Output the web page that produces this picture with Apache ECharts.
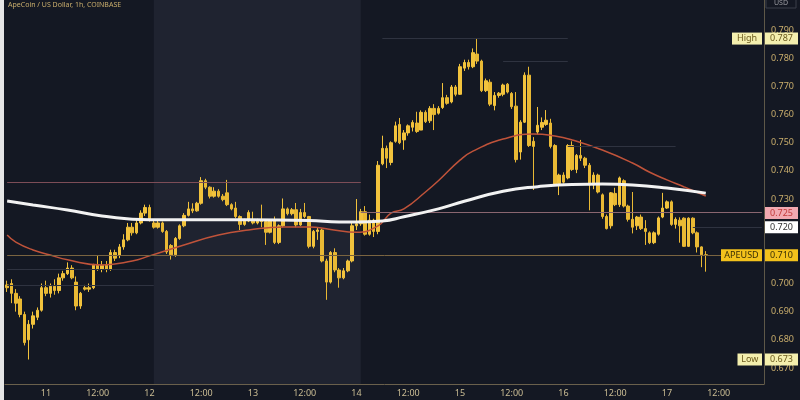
<!DOCTYPE html>
<html><head><meta charset="utf-8">
<script src="https://cdn.jsdelivr.net/npm/echarts@6/dist/echarts.min.js"></script>
<style>html,body{margin:0;padding:0;background:#141823}#c{width:800px;height:400px}</style>
</head><body><div id="c"></div><script>
// ---- data ----
const startDay = 10, startHour = 15, totalSlots = 176; // hourly slots (incl. empty future space)
const candles = [ // [open, close, low, high]
[0.6995,0.6985,0.697,0.701],[0.700,0.6965,0.693,0.7015],[0.6965,0.693,0.690,0.698],[0.6945,0.689,0.688,0.6955],
[0.689,0.679,0.678,0.690],[0.680,0.6855,0.673,0.687],[0.6855,0.6885,0.684,0.690],[0.688,0.6905,0.687,0.6915],
[0.6905,0.6985,0.690,0.700],[0.6985,0.6965,0.6955,0.701],[0.6965,0.699,0.695,0.700],[0.699,0.6975,0.696,0.7015],
[0.6975,0.702,0.6965,0.7035],[0.702,0.7035,0.701,0.7045],[0.7035,0.7055,0.703,0.7075],[0.7055,0.702,0.7015,0.7065],
[0.7005,0.692,0.6905,0.7025],[0.692,0.6965,0.691,0.697],[0.6985,0.698,0.6975,0.6995],[0.698,0.6985,0.697,0.700],
[0.6985,0.7065,0.698,0.707],[0.7065,0.705,0.7045,0.710],[0.705,0.7065,0.704,0.708],[0.7065,0.705,0.704,0.708],
[0.705,0.711,0.7045,0.712],[0.711,0.709,0.708,0.712],[0.710,0.713,0.709,0.714],[0.713,0.7155,0.712,0.7175],
[0.7155,0.720,0.715,0.7215],[0.720,0.718,0.717,0.7215],[0.718,0.7215,0.7175,0.7225],[0.7215,0.725,0.721,0.726],
[0.725,0.727,0.724,0.728],[0.727,0.7225,0.722,0.728],[0.7215,0.720,0.7195,0.7225],[0.720,0.7215,0.7195,0.7225],
[0.7215,0.7185,0.718,0.722],[0.7185,0.7112,0.7105,0.719],[0.7135,0.7102,0.7085,0.714],[0.7102,0.716,0.7095,0.7165],
[0.716,0.7205,0.7155,0.721],[0.7205,0.7242,0.720,0.725],[0.7242,0.7265,0.7238,0.729],[0.7265,0.7258,0.725,0.7285],
[0.7258,0.7285,0.7255,0.729],[0.7285,0.7365,0.728,0.7378],[0.7365,0.7342,0.7335,0.7372],[0.7342,0.731,0.7302,0.7345],
[0.731,0.7328,0.7305,0.7342],[0.7328,0.731,0.7305,0.7335],[0.731,0.7298,0.7292,0.7318],[0.7322,0.728,0.7275,0.7368],
[0.728,0.7265,0.726,0.7285],[0.7268,0.7238,0.7232,0.729],[0.7238,0.721,0.719,0.7242],[0.721,0.7225,0.7205,0.723],
[0.7222,0.7252,0.7218,0.726],[0.7226,0.7215,0.721,0.7255],[0.7215,0.7226,0.721,0.723],[0.7226,0.722,0.720,0.728],
[0.722,0.7182,0.7137,0.7225],[0.7182,0.7222,0.7178,0.7228],[0.7222,0.7146,0.714,0.7238],[0.7146,0.7205,0.714,0.721],
[0.7205,0.7265,0.720,0.7302],[0.7265,0.7248,0.7242,0.727],[0.7248,0.7262,0.7242,0.7268],[0.7262,0.7208,0.720,0.7286],
[0.7208,0.7252,0.7205,0.7265],[0.7252,0.7238,0.7232,0.7286],[0.7238,0.7132,0.7125,0.724],[0.7132,0.7185,0.7125,0.719],
[0.7185,0.719,0.7155,0.7198],[0.719,0.708,0.7075,0.7195],[0.708,0.7005,0.6942,0.7088],[0.7005,0.711,0.700,0.7115],
[0.711,0.7048,0.704,0.7125],[0.7048,0.702,0.6985,0.7055],[0.702,0.7045,0.7015,0.7055],[0.7045,0.708,0.704,0.7085],
[0.708,0.7205,0.7075,0.7215],[0.7205,0.7212,0.719,0.730],[0.7212,0.7255,0.7205,0.7265],[0.7255,0.7175,0.717,0.7275],
[0.7175,0.7225,0.717,0.7245],[0.7225,0.7185,0.7165,0.723],[0.7185,0.742,0.7175,0.7435],[0.7425,0.748,0.742,0.7525],
[0.748,0.7445,0.741,0.749],[0.743,0.750,0.742,0.7505],[0.7505,0.756,0.750,0.7575],[0.7565,0.750,0.7495,0.7588],
[0.751,0.7535,0.7475,0.7545],[0.7535,0.756,0.7525,0.7565],[0.7555,0.7572,0.754,0.758],[0.757,0.754,0.7535,0.761],
[0.7545,0.7608,0.7545,0.7615],[0.7608,0.7575,0.757,0.7615],[0.7578,0.7622,0.757,0.763],[0.7622,0.760,0.7545,0.7637],
[0.7605,0.7622,0.760,0.763],[0.7625,0.766,0.762,0.7712],[0.766,0.764,0.7635,0.767],[0.7645,0.7698,0.764,0.7705],
[0.7698,0.7672,0.7665,0.7705],[0.7672,0.777,0.767,0.778],[0.7765,0.7785,0.7755,0.7795],[0.7785,0.777,0.776,0.7795],
[0.777,0.782,0.7765,0.7835],[0.7815,0.779,0.778,0.787],[0.779,0.7685,0.768,0.7795],[0.7685,0.772,0.768,0.7728],
[0.7715,0.7637,0.763,0.7725],[0.7632,0.7668,0.7615,0.768],[0.7668,0.7676,0.766,0.768],[0.7672,0.7705,0.7665,0.771],
[0.7708,0.768,0.7675,0.7712],[0.7675,0.7628,0.762,0.768],[0.763,0.744,0.743,0.768],[0.7467,0.7573,0.744,0.758],
[0.7573,0.774,0.757,0.775],[0.774,0.749,0.7485,0.777],[0.7505,0.7487,0.7332,0.752],[0.7538,0.7562,0.753,0.7627],
[0.7555,0.7572,0.7545,0.759],[0.7565,0.758,0.756,0.7616],[0.757,0.7487,0.748,0.7585],[0.749,0.7352,0.735,0.7495],
[0.7355,0.7385,0.7314,0.739],[0.7385,0.736,0.7355,0.7395],[0.7375,0.749,0.737,0.7495],[0.749,0.7405,0.740,0.7505],
[0.7405,0.7455,0.7392,0.746],[0.7455,0.7445,0.7435,0.751],[0.7445,0.742,0.741,0.745],[0.742,0.735,0.726,0.7428],
[0.735,0.7385,0.7335,0.7395],[0.7385,0.7325,0.732,0.739],[0.7315,0.7238,0.723,0.732],[0.7238,0.7195,0.7192,0.7245],
[0.7205,0.7322,0.7195,0.7325],[0.732,0.728,0.7275,0.734],[0.728,0.7375,0.7272,0.738],[0.7365,0.7275,0.727,0.737],
[0.7275,0.7228,0.722,0.728],[0.7228,0.720,0.7178,0.7325],[0.7205,0.7236,0.719,0.724],[0.7236,0.7195,0.719,0.7245],
[0.7195,0.7185,0.7137,0.7225],[0.718,0.7145,0.714,0.7185],[0.7145,0.718,0.714,0.7185],[0.7175,0.7233,0.717,0.7238],
[0.7236,0.7268,0.7232,0.7322],[0.7268,0.729,0.7265,0.7295],[0.729,0.721,0.7205,0.7295],[0.721,0.7228,0.7195,0.7235],
[0.7225,0.7205,0.7145,0.7235],[0.7232,0.7132,0.713,0.7235],[0.7132,0.7232,0.713,0.7235],[0.7232,0.718,0.7175,0.7235],
[0.718,0.713,0.711,0.7185],[0.713,0.7102,0.7058,0.7132],[0.7102,0.710,0.7042,0.7115]
];
// moving averages: [slot index, value]
const maRed = [[0,0.7172],[2,0.7147],[6,0.7119],[10,0.7101],[14,0.7084],[22,0.7066],[29,0.708],[33,0.7098],
[41,0.7137],[49,0.7172],[56,0.719],[64,0.7201],[70,0.7201],[75,0.7192],[81,0.7182],[86,0.7205],[89,0.725],
[92,0.7265],[97,0.7325],[100,0.7365],[105,0.7438],[108,0.7470],[115,0.7513],[122,0.7531],[127,0.7524],
[131,0.751],[138,0.7474],[145,0.7428],[149,0.7395],[153,0.7368],[157,0.7343],[162,0.7311]];
const maWhite = [[0,0.7293],[6,0.7279],[14,0.7261],[22,0.7240],[33,0.7226],[56,0.7226],[70,0.7224],[77,0.7218],
[81,0.7218],[87,0.7222],[92,0.7237],[100,0.7265],[106,0.7292],[115,0.7328],[123,0.7344],[131,0.7352],
[138,0.7353],[145,0.735],[153,0.7339],[162,0.7321]];
const yTicks = [0.67,0.68,0.69,0.70,0.71,0.72,0.73,0.74,0.75,0.76,0.77,0.78,0.79];
// horizontal level segments: value, first slot, last slot
const levelValues = [0.736, 0.7254, 0.710];
const levelFrom = [0, 82, 0];
const levelTo = [82, 175, 175];
// faint session high/low segments
const faintValues = [0.7870, 0.7790, 0.7488, 0.7200, 0.7052, 0.6995];
const faintFrom = [87, 115, 130, 159, 0, 0];
const faintTo = [130, 130, 155, 175, 34, 34];
const weekendFrom = 34, weekendTo = 82;
const tagNames = ['High', '', '', 'APEUSD', 'Low'];
const tagValues = [0.787, 0.725, 0.720, 0.710, 0.673];
const titleText = 'ApeCoin / US Dollar, 1h, COINBASE';

// ---- categories ----
const categories = [];
for (let k = 0; k < totalSlots; k++) {
  const t = startHour + k;
  categories.push((startDay + Math.floor(t / 24)) + ' ' + String(t % 24).padStart(2, '0') + ':00');
}
const hourOf = v => parseInt(v.split(' ')[1], 10);

const levelStyles = [
  {color:'#7d4d57', width:1},
  {color:'#8a6670', width:1},
  {color:'#7a6440', width:1}
];
const gold = '#f2c33d';
const segs = levelValues.map((v, i) => [
  {coord: [levelFrom[i], v], lineStyle: {color: levelStyles[i].color, width: levelStyles[i].width, type: 'solid'}},
  {coord: [levelTo[i], v]}
]).concat(faintValues.map((v, i) => [
  {coord: [faintFrom[i], v], lineStyle: {color: '#2f3340', width: 1, type: 'solid'}},
  {coord: [faintTo[i], v]}
]));
const chart = echarts.init(document.getElementById('c'));
const option = {
  backgroundColor: '#141823',
  animation: false,
  grid: {left: 5, right: 36, top: 0, bottom: 16},
  xAxis: {
    type: 'category', data: categories, boundaryGap: true,
    axisLine: {lineStyle: {color: '#6a604c'}}, axisTick: {show: false},
    axisLabel: {
      color: '#cbbd94', fontSize: 9, margin: 5, fontFamily: 'Noto Sans',
      interval: (i, v) => hourOf(v) === 0 || hourOf(v) === 12,
      formatter: v => hourOf(v) === 0 ? v.split(' ')[0] : '12:00'
    },
    splitLine: {show: false}
  },
  yAxis: {
    type: 'value', position: 'right', min: 0.6643, max: 0.8007, scale: true,
    axisLine: {show: true, lineStyle: {color: '#5e5848'}}, axisTick: {show: false},
    axisLabel: {customValues: yTicks, formatter: v => v.toFixed(3), color: '#c9ad6c', fontSize: 9, margin: 7, fontFamily: 'Noto Sans'},
    splitLine: {show: false}
  },
  series: [
    {
      type: 'candlestick', data: candles.map(c => [c[0], c[1], c[2], c[3]]), barWidth: 3,
      itemStyle: {color: gold, color0: '#e9b934', borderColor: gold, borderColor0: '#e9b934', borderWidth: 1},
      markArea: {silent: true, itemStyle: {color: '#1f2330'}, data: [[{xAxis: weekendFrom}, {xAxis: weekendTo}]]},
      markLine: {silent: true, symbol: 'none', label: {show: false}, data: segs},
      z: 3
    },
    {type: 'line', data: maRed, smooth: true, symbol: 'none', lineStyle: {color: '#c0533a', width: 1.5}, z: 4},
    {type: 'line', data: maWhite, smooth: true, symbol: 'none', lineStyle: {color: '#f2f2f2', width: 3}, z: 5}
  ]
};
chart.setOption(option);

// price tags on the right axis
const tagStyles = [
  {bg:'#f4efae', fg:'#6b5a1c'},
  {bg:'#f2a9b1', fg:'#c23a3a'},
  {bg:'#ffffff', fg:'#333333'},
  {bg:'#f3c21c', fg:'#3a2f05'},
  {bg:'#f4efae', fg:'#6b5a1c'}
];
const g = [];
tagValues.forEach((v, i) => {
  const y = chart.convertToPixel({yAxisIndex: 0}, v);
  const s = tagStyles[i];
  g.push({type:'rect', shape:{x:765, y:y-6, width:33, height:12}, style:{fill:s.bg}, z:100});
  g.push({type:'text', x:781.5, y:y, style:{text:v.toFixed(3), fill:s.fg, font:'9px "Noto Sans"', align:'center', verticalAlign:'middle'}, z:101});
  if (tagNames[i]) {
    const w = tagNames[i].length * 5.5 + 8;
    g.push({type:'rect', shape:{x:762-w, y:y-6, width:w, height:12}, style:{fill:s.bg}, z:100});
    g.push({type:'text', x:762-w/2, y:y, style:{text:tagNames[i], fill:s.fg, font:'9px "Noto Sans"', align:'center', verticalAlign:'middle'}, z:101});
  }
});
g.push({type:'rect', shape:{x:0, y:0, width:4, height:400}, style:{fill:'#e6e6e6'}, z:100});
g.push({type:'text', x:8, y:1, style:{text:titleText, fill:'#c9ad6c', font:'7px "Noto Sans"'}, z:100});
g.push({type:'rect', shape:{x:766, y:-3, width:30, height:11}, style:{fill:'#141823', stroke:'#3a3e4a'}, z:100});
g.push({type:'text', x:781, y:3, style:{text:'USD', fill:'#9a9aa0', font:'7px "Noto Sans"', align:'center', verticalAlign:'middle'}, z:101});
chart.setOption({graphic: g});
</script></body></html>
